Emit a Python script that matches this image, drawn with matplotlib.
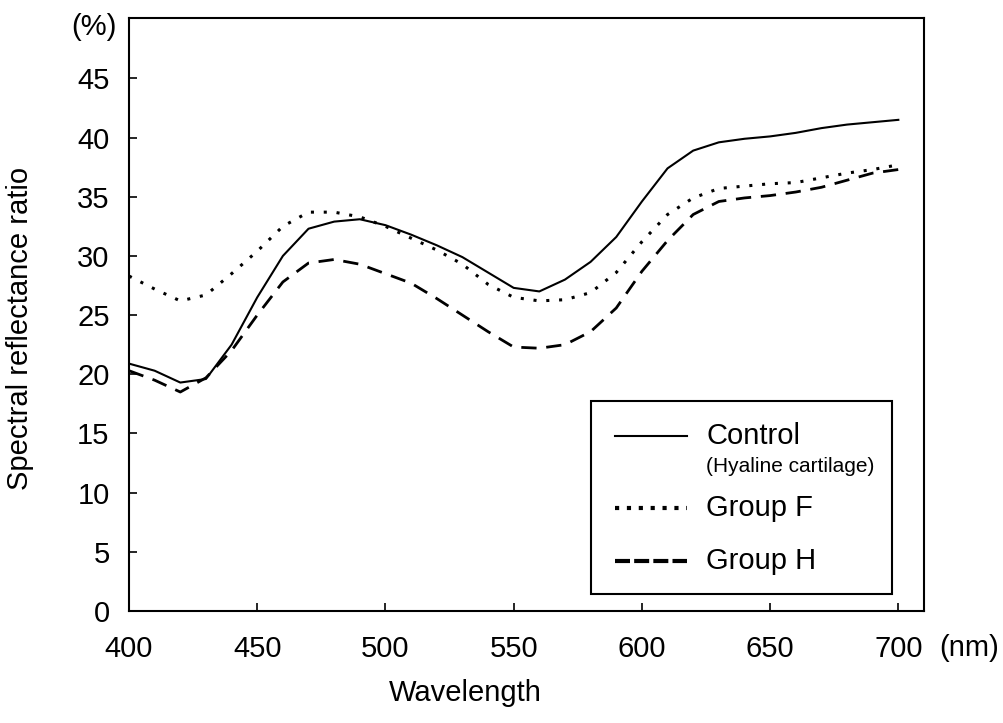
import numpy as np
import matplotlib.pyplot as plt
from matplotlib.patches import Rectangle
from matplotlib.lines import Line2D

plt.rcParams['font.family'] = ['Liberation Sans', 'DejaVu Sans']

wavelength = np.arange(400, 701, 10)

control = [20.9, 20.3, 19.3, 19.6, 22.5, 26.5, 30.0, 32.3, 32.9, 33.1,
           32.6, 31.8, 30.9, 29.9, 28.6, 27.3, 27.0, 28.0, 29.5, 31.6,
           34.6, 37.4, 38.9, 39.6, 39.9, 40.1, 40.4, 40.8, 41.1, 41.3, 41.5]

group_f = [28.3, 27.2, 26.2, 26.7, 28.5, 30.4, 32.5, 33.7, 33.7, 33.3,
           32.5, 31.5, 30.5, 29.3, 27.6, 26.5, 26.2, 26.3, 26.9, 28.6,
           31.2, 33.5, 34.9, 35.7, 35.9, 36.1, 36.2, 36.6, 37.0, 37.3, 37.7]

group_h = [20.3, 19.5, 18.5, 19.7, 22.0, 25.0, 27.8, 29.4, 29.7, 29.3,
           28.5, 27.7, 26.4, 25.0, 23.6, 22.3, 22.2, 22.5, 23.6, 25.6,
           28.7, 31.3, 33.5, 34.6, 34.9, 35.1, 35.4, 35.8, 36.4, 37.0, 37.3]

xticks = [400, 450, 500, 550, 600, 650, 700]
yticks = [0, 5, 10, 15, 20, 25, 30, 35, 40, 45]

fig = plt.figure(figsize=(10.04, 7.23), dpi=100)
ax = fig.add_axes([0.1285, 0.155, 0.7918, 0.82])

solid_kw = dict(color='black', lw=1.5)
dot_kw = dict(color='black', lw=2.2, linestyle=(0, (1.0, 3.2)))
dash_kw = dict(color='black', lw=2.0, linestyle=(0, (5.5, 3.5)))

ax.plot(wavelength, control, **solid_kw)
ax.plot(wavelength, group_f, **dot_kw)
ax.plot(wavelength, group_h, **dash_kw)

ax.set_xlim(400, 710)
ax.set_ylim(0, 50.1)
ax.set_xticks(xticks)
ax.set_yticks(yticks)
ax.tick_params(direction='in', length=6, width=1.2, labelsize=21, pad=14)
ax.tick_params(axis='x', pad=17)
for s in ax.spines.values():
    s.set_linewidth(1.5)

W, H = 1004, 723
def fx(px): return px / W
def fy(py): return 1 - py / H

fig.text(fx(465), fy(693), 'Wavelength', fontsize=21, ha='center', va='center')
fig.text(fx(20), fy(328), 'Spectral reflectance ratio', fontsize=21,
         ha='center', va='center', rotation=90)
fig.text(fx(94), fy(27), '(%)', fontsize=21, ha='center', va='center')
fig.text(fx(969), fy(648), '(nm)', fontsize=21, ha='center', va='center')

# legend box drawn by hand
fig.patches.append(Rectangle((fx(591), fy(594)), fx(892) - fx(591), fy(401) - fy(594),
                             transform=fig.transFigure, fill=False, lw=1.5,
                             edgecolor='black'))
leg_solid = dict(color='black', lw=1.5)
leg_dot = dict(color='black', lw=3.0, linestyle=(0, (1.0, 1.85)))
leg_dash = dict(color='black', lw=3.0, linestyle=(0, (3.6, 1.0)))
rows = [(436, leg_solid, 'Control'), (508, leg_dot, 'Group F'), (561, leg_dash, 'Group H')]
for py, kw, label in rows:
    fig.lines.append(Line2D([fx(615), fx(687)], [fy(py), fy(py)],
                            transform=fig.transFigure, **kw))
    fig.text(fx(706), fy(py), label, fontsize=21, va='center', ha='left')
fig.text(fx(706), fy(466), '(Hyaline cartilage)', fontsize=15, va='center', ha='left')

fig.savefig('out.png', dpi=100)
